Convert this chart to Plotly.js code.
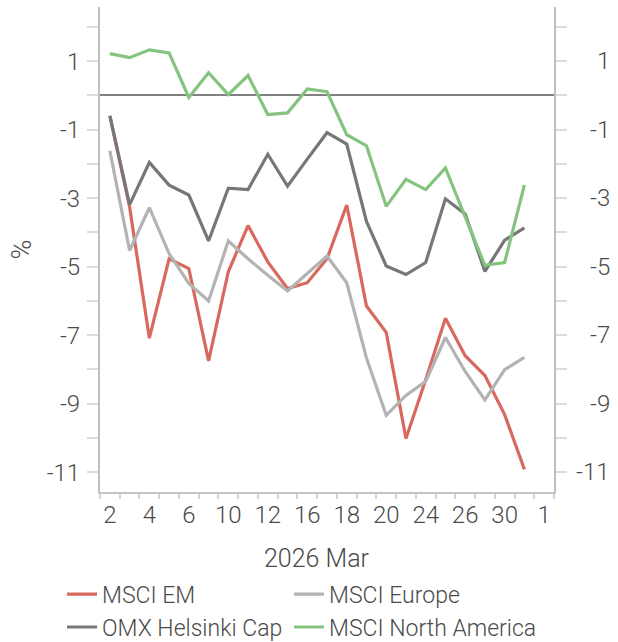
<!DOCTYPE html>
<html>
<head>
<meta charset="utf-8">
<script src="https://cdn.plot.ly/plotly-3.0.1.min.js"></script>
<style>html,body{margin:0;padding:0;background:#fff;}#chart{width:618px;height:642px;}</style>
</head>
<body>
<div id="chart"></div>
<script>
// Trading days of March 2026 (day of month), plus the axis end category "1" (1 April)
const dates = ['2','3','4','5','6','9','10','11','12','13','16','17','18','19','20','23','24','25','26','27','30','31'];
const axisEndLabel = '1';
const tickLabels = ['2','4','6','10','12','16','18','20','24','26','30','1'];
const xTitle = '2026 Mar';
const yTitle = '%';

const seriesNames = ['MSCI EM', 'MSCI Europe', 'OMX Helsinki Cap', 'MSCI North America'];
const msciEM = [-0.60, -3.26, -7.09, -4.77, -5.06, -7.75, -5.15, -3.80, -4.86, -5.64, -5.47, -4.77, -3.20, -6.15, -6.92, -10.02, -8.30, -6.51, -7.60, -8.18, -9.32, -10.92];
const msciEurope = [-1.62, -4.53, -3.28, -4.62, -5.49, -6.00, -4.25, -4.77, -5.25, -5.71, -5.20, -4.69, -5.47, -7.67, -9.34, -8.76, -8.35, -7.07, -8.06, -8.89, -8.01, -7.65];
const omxHelsinkiCap = [-0.60, -3.19, -1.96, -2.62, -2.91, -4.25, -2.71, -2.75, -1.72, -2.65, -1.86, -1.09, -1.42, -3.68, -4.98, -5.23, -4.88, -3.02, -3.46, -5.14, -4.23, -3.87];
const msciNorthAmerica = [1.22, 1.10, 1.33, 1.24, -0.06, 0.66, 0.02, 0.58, -0.56, -0.51, 0.19, 0.11, -1.15, -1.47, -3.24, -2.45, -2.75, -2.12, -3.55, -4.96, -4.88, -2.62];
const yTickValues = [-11, -9, -7, -5, -3, -1, 1];

const allCats = dates.concat([axisEndLabel]);
const xIdx = dates.map((d, i) => i);
const labelPos = allCats.map((c, i) => i).filter(i => i % 2 === 0);
const yTickText = yTickValues.map(v => String(v));

const colors = ['#d9695e', '#b3b3b3', '#777777', '#85c47e'];
const values = [msciEM, msciEurope, omxHelsinkiCap, msciNorthAmerica];
const legendOf = ['legend', 'legend2', 'legend', 'legend2'];

const FONT = 'Roboto, "Open Sans", sans-serif';
const TXT = '#4a4a4a';
const tf = (s) => ({family: FONT, size: s, color: TXT, weight: 300});

const traces = values.map((v, k) => ({
  type: 'scatter', mode: 'lines', name: seriesNames[k],
  x: xIdx, y: v, legend: legendOf[k],
  line: {color: colors[k], width: 3.2},
  hoverinfo: 'skip'
}));

const xr = [-0.5, allCats.length - 0.5];
const yr = [-11.58, 2.58];

// right-hand tick labels (mirror of the left axis), right-aligned at the page edge
const rightLabels = yTickValues.map((v, i) => ({
  xref: 'paper', yref: 'y', x: 1, y: v, xanchor: 'right', yanchor: 'middle', xshift: 4,
  text: yTickText[i], showarrow: false, font: tf(24)
}));

const layout = {
  width: 618, height: 642,
  margin: {l: 100, r: 10, t: 7, b: 150, pad: 0, autoexpand: false},
  paper_bgcolor: '#fff', plot_bgcolor: '#fff',
  font: tf(24),
  showlegend: true,
  xaxis: {
    domain: [0, 0.8937], range: xr, fixedrange: true, automargin: false,
    tickmode: 'array', tickvals: labelPos, ticktext: tickLabels,
    ticks: '', showgrid: false, zeroline: false,
    showline: true, linecolor: '#c4c4c4', linewidth: 2,
    tickfont: tf(24),
    minor: {ticks: 'outside', tickmode: 'linear', tick0: -0.5, dtick: 1, ticklen: 5, tickcolor: '#d4d4d4', tickwidth: 2, showgrid: false}
  },
  xaxis2: {
    overlaying: 'x', anchor: 'y', range: xr, fixedrange: true, automargin: false,
    tickmode: 'array', tickvals: [-0.5, dates.length - 0.5],
    ticks: 'outside', ticklen: 10, tickwidth: 2, tickcolor: '#d4d4d4',
    showticklabels: false, showgrid: false, zeroline: false, showline: false
  },
  yaxis: {
    range: yr, fixedrange: true, automargin: false,
    tickmode: 'array', tickvals: yTickValues, ticktext: yTickText,
    ticks: 'outside', ticklen: 11, tickwidth: 2, tickcolor: '#dcdcdc',
    minor: {ticks: 'outside', tickmode: 'linear', tick0: 0, dtick: 1, ticklen: 11, tickwidth: 2, tickcolor: '#dcdcdc', showgrid: false},
    showgrid: false,
    zeroline: true, zerolinecolor: '#808080', zerolinewidth: 2,
    showline: true, linecolor: '#c0c0c0', linewidth: 2, mirror: 'allticks',
    tickfont: tf(24),
    ticklabelstandoff: 2
  },
  annotations: rightLabels.concat([
    {
      xref: 'x', yref: 'paper', x: (dates.length - 1) / 2, y: 0, yshift: -50,
      xanchor: 'center', yanchor: 'top', text: xTitle, showarrow: false, font: tf(25)
    },
    {
      xref: 'paper', yref: 'paper', x: 0, y: 0.5, xshift: -79,
      xanchor: 'center', yanchor: 'middle', textangle: -90, text: yTitle, showarrow: false, font: tf(27)
    }
  ]),
  legend: {
    orientation: 'v', xref: 'container', yref: 'container',
    x: 62 / 618, xanchor: 'left', y: 0.108, yanchor: 'top',
    font: tf(23), itemwidth: 30, tracegroupgap: 0, borderwidth: 0, bgcolor: 'rgba(0,0,0,0)'
  },
  legend2: {
    orientation: 'v', xref: 'container', yref: 'container',
    x: 289 / 618, xanchor: 'left', y: 0.108, yanchor: 'top',
    font: tf(23), itemwidth: 30, tracegroupgap: 0, borderwidth: 0, bgcolor: 'rgba(0,0,0,0)'
  }
};

Plotly.newPlot('chart', traces, layout, {staticPlot: true, displayModeBar: false});
</script>
</body>
</html>
